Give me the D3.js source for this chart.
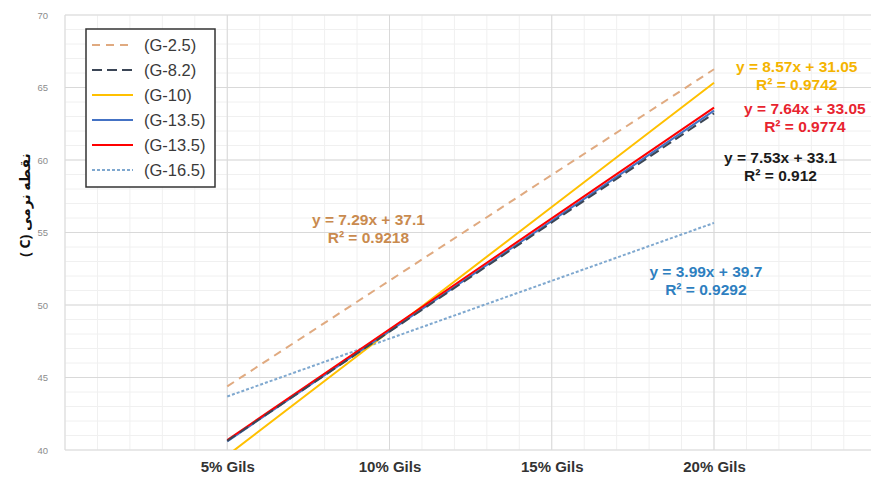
<!DOCTYPE html>
<html>
<head>
<meta charset="utf-8">
<script src="https://cdn.jsdelivr.net/npm/d3@7"></script>
<style>
  body { margin: 0; background: #fff; }
  svg { font-family: "Liberation Sans", Arial, sans-serif; }
</style>
</head>
<body>
<div id="chart"></div>
<script>
const categories = ["5% Gils", "10% Gils", "15% Gils", "20% Gils"];
const yTicks = [40, 45, 50, 55, 60, 65, 70];

const seriesNames = ["(G-2.5)", "(G-8.2)", "(G-10)", "(G-13.5)", "(G-13.5)", "(G-16.5)"];
const g25 = [44.39, 51.68, 58.97, 66.26];
const g82 = [40.63, 48.16, 55.69, 63.22];
const g10 = [39.62, 48.19, 56.76, 65.33];
const g135blue = [40.60, 48.20, 55.80, 63.40];
const g135red = [40.69, 48.33, 55.97, 63.61];
const g165 = [43.69, 47.68, 51.67, 55.66];

const equations = [
  { text: ["y = 7.29x + 37.1", "R² = 0.9218"], color: "#c98a4e", x: 1.87, y: 55.5 },
  { text: ["y = 8.57x + 31.05", "R² = 0.9742"], color: "#f4b400", x: 4.51, y: 66.1 },
  { text: ["y = 7.64x + 33.05", "R² = 0.9774"], color: "#e8242f", x: 4.56, y: 63.2 },
  { text: ["y = 7.53x + 33.1", "R² = 0.912"], color: "#1a1a1a", x: 4.41, y: 59.8 },
  { text: ["y = 3.99x + 39.7", "R² = 0.9292"], color: "#2e7fc0", x: 3.95, y: 51.9 }
];

const width = 871, height = 479;
const plot = { left: 65, right: 871, top: 15, bottom: 450 };

const svg = d3.select("#chart").append("svg")
  .attr("width", width)
  .attr("height", height);

const x = d3.scaleLinear().domain([0, 4]).range([plot.left, 714]);
const y = d3.scaleLinear().domain([40, 70]).range([plot.bottom, plot.top]);

// grid
const grid = svg.append("g");
grid.selectAll(".minor-h")
  .data(d3.range(40, 70.01, 1))
  .join("line")
  .attr("x1", plot.left).attr("x2", plot.right)
  .attr("y1", d => y(d)).attr("y2", d => y(d))
  .attr("stroke", "#f0f0f0");
grid.selectAll(".minor-v")
  .data(d3.range(0, 5.01, 0.2))
  .join("line")
  .attr("x1", d => x(d)).attr("x2", d => x(d))
  .attr("y1", plot.top).attr("y2", plot.bottom)
  .attr("stroke", "#f0f0f0");
grid.append("g").selectAll("line")
  .data(yTicks)
  .join("line")
  .attr("x1", plot.left).attr("x2", plot.right)
  .attr("y1", d => y(d)).attr("y2", d => y(d))
  .attr("stroke", "#d9d9d9");
grid.append("g").selectAll("line")
  .data(d3.range(0, 5))
  .join("line")
  .attr("x1", d => x(d)).attr("x2", d => x(d))
  .attr("y1", plot.top).attr("y2", plot.bottom)
  .attr("stroke", "#d9d9d9");

// y axis labels
svg.append("g")
  .attr("transform", `translate(${plot.left - 17},0)`)
  .call(d3.axisLeft(y).tickValues(yTicks).tickSize(0).tickPadding(0))
  .call(g => g.select(".domain").remove())
  .call(g => g.selectAll("text")
    .attr("fill", "#8c8c8c")
    .style("font-size", "9.5px")
    .style("font-family", "Liberation Sans, Arial, sans-serif"));

// x axis labels
svg.append("g")
  .attr("transform", `translate(0,${plot.bottom})`)
  .call(d3.axisBottom(x).tickValues([1, 2, 3, 4]).tickFormat(d => categories[d - 1]).tickSize(0).tickPadding(11))
  .call(g => g.select(".domain").remove())
  .call(g => g.selectAll("text")
    .attr("fill", "#333")
    .style("font-size", "15px")
    .style("font-weight", "bold")
    .style("font-family", "Liberation Sans, Arial, sans-serif"));

// y title
svg.append("text")
  .attr("transform", `translate(30,205) rotate(-90)`)
  .attr("text-anchor", "middle")
  .attr("direction", "rtl")
  .attr("fill", "#111")
  .style("font-size", "14px")
  .style("font-weight", "bold")
  .style("font-family", "Noto Sans, DejaVu Sans, sans-serif")
  .text("نقطه نرمی (C )");

// series
svg.append("clipPath").attr("id", "clip")
  .append("rect")
  .attr("x", plot.left).attr("y", plot.top)
  .attr("width", plot.right - plot.left).attr("height", plot.bottom - plot.top);

const series = [
  { name: seriesNames[5], values: g165, color: "#7fa8cf", dash: "3,2", w: 2 },
  { name: seriesNames[0], values: g25, color: "#e0aa80", dash: "8,6", w: 2 },
  { name: seriesNames[2], values: g10, color: "#ffc000", dash: null, w: 2 },
  { name: seriesNames[3], values: g135blue, color: "#4472c4", dash: null, w: 2 },
  { name: seriesNames[4], values: g135red, color: "#ff0000", dash: null, w: 2 },
  { name: seriesNames[1], values: g82, color: "#3b4656", dash: "10,5", w: 2 }
];

const line = d3.line()
  .x((d, i) => x(i + 1))
  .y(d => y(d));

svg.append("g").attr("clip-path", "url(#clip)")
  .selectAll("path")
  .data(series)
  .join("path")
  .attr("d", d => line(d.values))
  .attr("fill", "none")
  .attr("stroke", d => d.color)
  .attr("stroke-width", d => d.w)
  .attr("stroke-dasharray", d => d.dash);

// equations
equations.forEach(e => {
  const t = svg.append("text")
    .attr("x", x(e.x))
    .attr("y", y(e.y))
    .attr("text-anchor", "middle")
    .attr("fill", e.color)
    .style("font-size", "15.5px")
    .style("font-weight", "bold");
  e.text.forEach((s, i) => {
    t.append("tspan")
      .attr("x", x(e.x))
      .attr("dy", i === 0 ? 0 : 18)
      .text(s);
  });
});

// legend
const legendOrder = [
  { name: seriesNames[0], color: "#e0aa80", dash: "8,6" },
  { name: seriesNames[1], color: "#3b4656", dash: "10,5" },
  { name: seriesNames[2], color: "#ffc000", dash: null },
  { name: seriesNames[3], color: "#4472c4", dash: null },
  { name: seriesNames[4], color: "#ff0000", dash: null },
  { name: seriesNames[5], color: "#7fa8cf", dash: "3,2" }
];

const legend = svg.append("g").attr("transform", "translate(86,29)");
legend.append("rect")
  .attr("width", 129).attr("height", 158)
  .attr("fill", "#fff")
  .attr("stroke", "#333")
  .attr("stroke-width", 1.5);

legendOrder.forEach((d, i) => {
  const g = legend.append("g").attr("transform", `translate(0,${16 + i * 25})`);
  g.append("line")
    .attr("x1", 6).attr("x2", 47)
    .attr("stroke", d.color)
    .attr("stroke-width", 2)
    .attr("stroke-dasharray", d.dash);
  g.append("text")
    .attr("x", 58).attr("y", 6)
    .attr("fill", "#3a3a3a")
    .style("font-size", "16.5px")
    .text(d.name);
});
</script>
</body>
</html>
